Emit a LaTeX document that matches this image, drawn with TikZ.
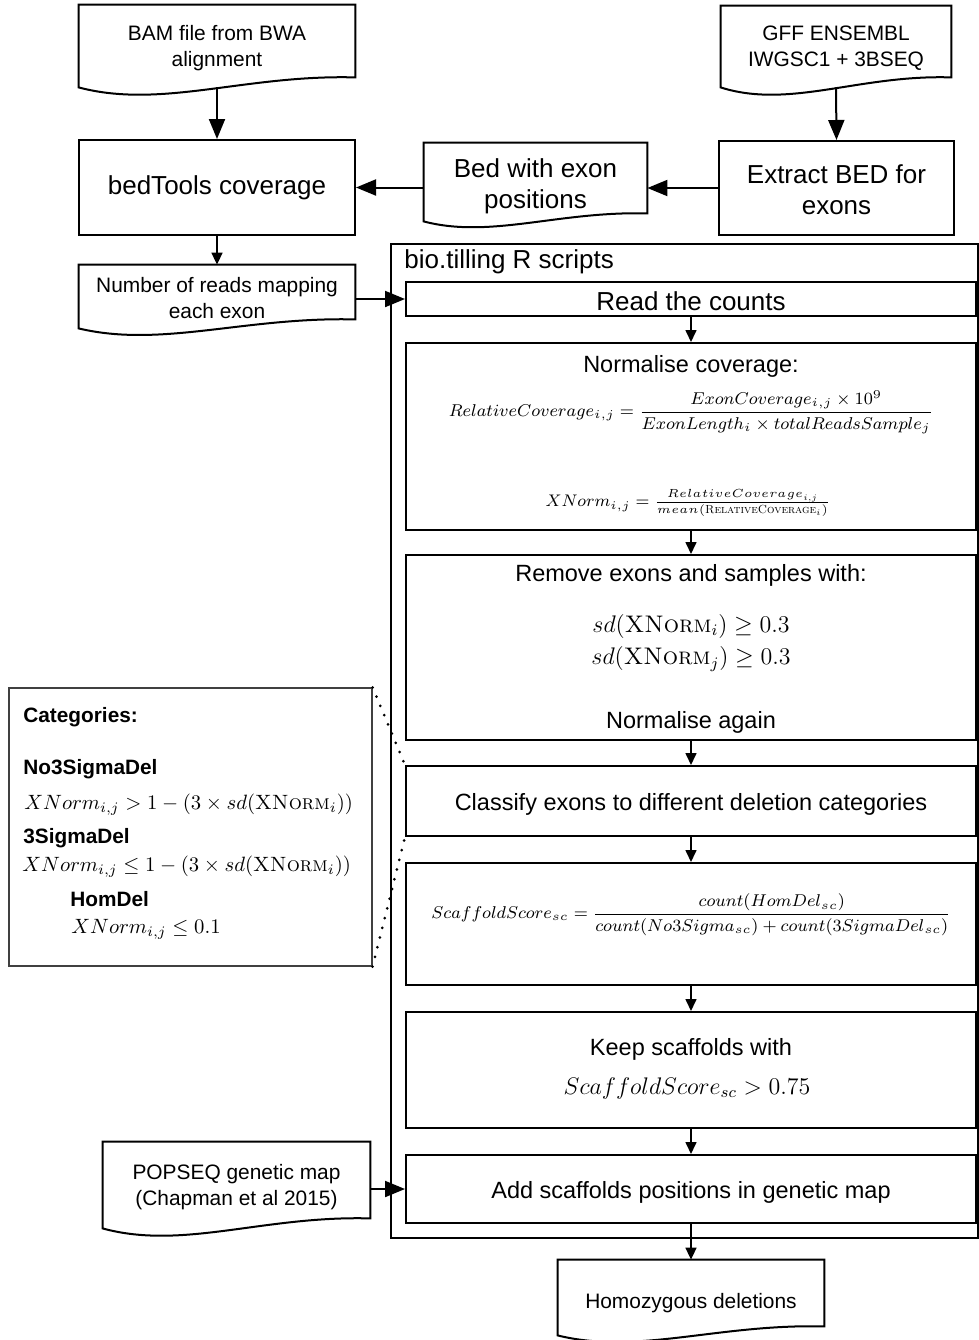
\RequirePackage{fix-cm}
\documentclass[tikz,border=0pt]{standalone}
\usepackage{amsmath}
\usepackage{fontspec}
\setsansfont{Liberation Sans}
\usetikzlibrary{arrows.meta,calc}

\newcommand\xsc[1]{\textnormal{\scshape #1}}
\newcommand\fsm{\fontsize{10.45}{13}\selectfont}
\newcommand\fmd{\fontsize{11.75}{14}\selectfont}
\newcommand\flg{\fontsize{13}{15.5}\selectfont}
\newcommand\fbold{\fontsize{10.4}{12}\selectfont\bfseries}

\newcommand\docdraw[2][9]{%
  \draw[line width=1pt] (#2.south west)
   .. controls ($(#2.south west)!0.3!(#2.south east)+(0,2.2*#1)$)
   and ($(#2.south west)!0.6!(#2.south east)+(0,-1.3*#1)$)
   .. ($(#2.south east)+(0,-#1)$) -- (#2.north east) -- (#2.north west) -- cycle;}

\begin{document}
\begin{tikzpicture}[x=0.5pt,y=-0.5pt,font=\sffamily,
  procbox/.style={draw,line width=1pt,inner sep=0pt,align=center},
  docnode/.style={inner sep=0pt,align=center},
  inbox/.style={procbox,minimum width=285pt},
  bigarrow/.style={-{Triangle[length=10pt,width=8pt]},line width=1pt},
  smallarrow/.style={-{Triangle[length=6pt,width=5.5pt]},line width=0.8pt},
  dotline/.style={line width=1.5pt,line cap=round,dash pattern=on 0pt off 5pt},
  txt/.style={inner sep=0pt,align=center}]
\useasboundingbox (0,0) rectangle (979,1340);

% top documents and processes
\node[docnode,minimum width=138pt,minimum height=41pt] (bam) at (217,46) {};
\docdraw[10]{bam}
\node[txt,font=\sffamily\fsm] (bamt) at (217,48) {BAM file from BWA\\alignment};
\node[docnode,minimum width=115pt,minimum height=40.5pt] (gff) at (836,46.5) {};
\docdraw[10]{gff}
\node[txt,font=\sffamily\fsm] (gfft) at (836,48.5) {GFF ENSEMBL\\IWGSC1 + 3BSEQ};
\node[procbox,minimum width=138pt,minimum height=47.5pt,font=\sffamily\flg] (bt) at (217,187.5) {bedTools coverage};
\node[docnode,minimum width=111.5pt,minimum height=39pt] (bed) at (535.5,182) {};
\docdraw[8]{bed}
\node[txt,font=\sffamily\flg] (bedt) at (535.5,186) {Bed with exon\\positions};
\node[procbox,minimum width=117.5pt,minimum height=47pt,font=\sffamily\flg] (ext) at (836.5,188) {};
\node[txt,font=\sffamily\flg] (extt) at (836.5,190) {Extract BED for\\exons};
\node[docnode,minimum width=138pt,minimum height=31.5pt] (num) at (217,296.5) {};
\docdraw[9]{num}
\node[txt,font=\sffamily\fsm] (numt) at (217,298) {Number of reads mapping\\each exon};

% container
\node[draw,line width=1pt,minimum width=293.5pt,minimum height=497pt,inner sep=0pt] (frame) at (684.5,741) {};
\node[txt,anchor=west,font=\sffamily\flg] (lbl) at (404,262) {bio.tilling R scripts};

% inner boxes
\node[inbox,minimum height=17pt] (read) at (691,299) {};
\node[txt,font=\sffamily\flg] (readt) at (691,301) {Read the counts};

\node[inbox,minimum height=93.5pt] (norm) at (691,436.5) {};
\node[txt,font=\sffamily\fmd] (normt) at (691,366) {Normalise coverage:};
\node[txt,font=\fontsize{8.57}{11}\selectfont] (normf1) at (691,412) {$\displaystyle RelativeCoverage_{i,j} = \frac{ExonCoverage_{i,j}\times 10^9}{ExonLength_i \times totalReadsSample_j}$};
\node[txt,font=\fontsize{8.4}{11}\selectfont] (normf2) at (688,503) {$XNorm_{i,j} = \frac{RelativeCoverage_{i,j}}{mean(\xsc{RelativeCoverage}_i)}$};

\node[inbox,minimum height=92.5pt] (rem) at (691,647.5) {};
\node[txt,font=\sffamily\fmd] (remt) at (691,575) {Remove exons and samples with:};
\node[txt,font=\fontsize{12}{14}\selectfont] (remf1) at (691,626) {$sd(\xsc{XNorm}_i) \geq 0.3$};
\node[txt,font=\fontsize{12}{14}\selectfont] (remf2) at (691,659) {$sd(\xsc{XNorm}_j) \geq 0.3$};
\node[txt,font=\sffamily\fmd] (remt2) at (691,722) {Normalise again};

\node[inbox,minimum height=35pt] (cls) at (691,801) {};
\node[txt,font=\sffamily\fmd] (clst) at (691,804) {Classify exons to different deletion categories};

\node[inbox,minimum height=61pt] (score) at (691,924) {};
\node[txt,font=\fontsize{8.56}{11}\selectfont] (scoref) at (691,915) {$\displaystyle ScaffoldScore_{sc} = \frac{count(HomDel_{sc})}{count(No3Sigma_{sc})+count(3SigmaDel_{sc})}$};

\node[inbox,minimum height=58pt] (keep) at (691,1070) {};
\node[txt,font=\sffamily\fmd] (keept) at (691,1049) {Keep scaffolds with};
\node[txt,font=\fontsize{12}{14}\selectfont] (keepf) at (687,1088) {$ScaffoldScore_{sc} > 0.75$};

\node[inbox,minimum height=34pt] (add) at (691,1189) {};
\node[txt,font=\sffamily\fmd] (addt) at (691,1192) {Add scaffolds positions in genetic map};

% bottom documents
\node[docnode,minimum width=133.5pt,minimum height=43pt] (pop) at (236.5,1185) {};
\docdraw[10]{pop}
\node[txt,font=\sffamily\fsm] (popt) at (236.5,1187) {POPSEQ genetic map\\(Chapman et al 2015)};
\node[docnode,minimum width=133pt,minimum height=37.5pt] (hom) at (691,1297.5) {};
\docdraw[9]{hom}
\node[txt,font=\sffamily\fsm] (homt) at (691,1303) {Homozygous deletions};

% categories box
\node[draw=black!75,line width=0.6pt,minimum width=181.5pt,minimum height=139pt,inner sep=0pt] (cat) at (190.5,827) {};
\node[txt,anchor=west,font=\sffamily\fbold] (c1) at (23,717) {Categories:};
\node[txt,anchor=west,font=\sffamily\fbold] (c2) at (23,769) {No3SigmaDel};
\node[txt,anchor=west,font=\fontsize{10.35}{13}\selectfont] (c3) at (24,805) {$XNorm_{i,j} > 1-(3\times sd(\xsc{XNorm}_i))$};
\node[txt,anchor=west,font=\sffamily\fbold] (c4) at (23,838) {3SigmaDel};
\node[txt,anchor=west,font=\fontsize{10.35}{13}\selectfont] (c5) at (22,867) {$XNorm_{i,j} \leq 1-(3\times sd(\xsc{XNorm}_i))$};
\node[txt,anchor=west,font=\sffamily\fbold] (c6) at (70,899) {HomDel};
\node[txt,anchor=west,font=\fontsize{10.35}{13}\selectfont] (c7) at (71,929) {$XNorm_{i,j} \leq 0.1$};

% connectors
\draw[bigarrow] (bam.south) -- (bt.north);
\draw[bigarrow] (gff.south) -- (ext.north);
\draw[bigarrow] (ext.west) -- (ext.west -| bed.east);
\draw[bigarrow] (bed.west |- bt.east) -- (bt.east);
\draw[smallarrow] (bt.south) -- (num.north);
\draw[bigarrow] (read.west -| num.east) -- (read.west);
\draw[smallarrow] (read.south) -- (norm.north);
\draw[smallarrow] (norm.south) -- (rem.north);
\draw[smallarrow] (rem.south) -- (cls.north);
\draw[smallarrow] (cls.south) -- (score.north);
\draw[smallarrow] (score.south) -- (keep.north);
\draw[smallarrow] (keep.south) -- (add.north);
\draw[bigarrow] (add.west -| pop.east) -- (add.west);
\draw[smallarrow] (add.south) -- (hom.north);
\draw[dotline] (cat.north east) -- (cls.north west);
\draw[dotline] (cat.south east) -- (cls.south west);
\end{tikzpicture}
\end{document}
